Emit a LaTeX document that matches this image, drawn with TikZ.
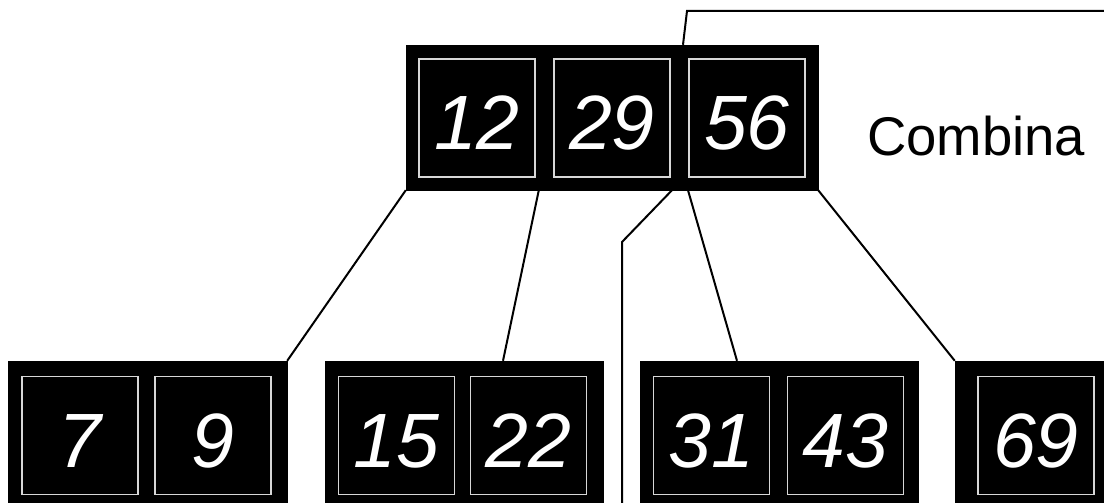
\documentclass[tikz,border=0pt]{standalone}
\usepackage{fontspec}
\setmainfont{Liberation Sans}
\usepackage{xcolor}
\usetikzlibrary{positioning, calc}
\definecolor{CellEdge}{RGB}{215,215,215}

\tikzset{
  page/.style={x=1pt, y=-1pt},
  block/.style={rectangle, fill=black, draw=black, inner sep=0pt, minimum height=145pt},
  cell/.style={rectangle, fill=black, draw=CellEdge, line width=1.8pt, inner sep=0pt,
    minimum width=116pt, minimum height=118pt, text=white,
    text height=63pt, text depth=0pt,
    font=\fontsize{77}{77}\selectfont\itshape},
  link/.style={line width=2pt, black}
}

\begin{document}
\begin{tikzpicture}[page]
  \clip (0,0) rectangle (1104,503);
  % root
  \node[block, minimum width=412pt] (root) at (612,117.5) {};
  \node[cell] (r1) at (477,118) {12};
  \node[cell] (r2) at (612,118) {29};
  \node[cell] (r3) at (747,118) {56};
  \node[anchor=base west, inner sep=0pt, font=\fontsize{54.5}{54}\selectfont] (label) at (867,155) {Combina};
  % leaves
  \node[block, minimum width=279pt] (leafa) at (147.5,433.5) {};
  \node[cell] (a1) at (80,435.5) {7};
  \node[cell] (a2) at (213,435.5) {9};
  \node[block, minimum width=278pt] (leafb) at (464,433.5) {};
  \node[cell] (b1) at (396.5,435.5) {15};
  \node[cell] (b2) at (528.5,435.5) {22};
  \node[block, minimum width=278pt] (leafc) at (779,433.5) {};
  \node[cell] (c1) at (711.5,435.5) {31};
  \node[cell] (c2) at (845.5,435.5) {43};
  \node[block, minimum width=170pt] (leafd) at (1040,433.5) {};
  \node[cell] (d1) at (1036,435.5) {69};
  % links
  \coordinate (bend) at (622,242);
  \coordinate (down) at (622,512);
  \coordinate (topbend) at (687,11);
  \coordinate (topend) at (1112,11);
  \draw[link] (root.south west) -- (leafa.north east);
  \draw[link] ([xshift=133pt]root.south west) -- ([xshift=39pt]leafb.north);
  \draw[link] ([xshift=60pt]root.south) -- (bend) -- (down);
  \draw[link] ([xshift=76pt]root.south) -- ([xshift=-42pt]leafc.north);
  \draw[link] (root.south east) -- (leafd.north west);
  \draw[link] ([xshift=71pt]root.north) -- (topbend) -- (topend);
\end{tikzpicture}
\end{document}
